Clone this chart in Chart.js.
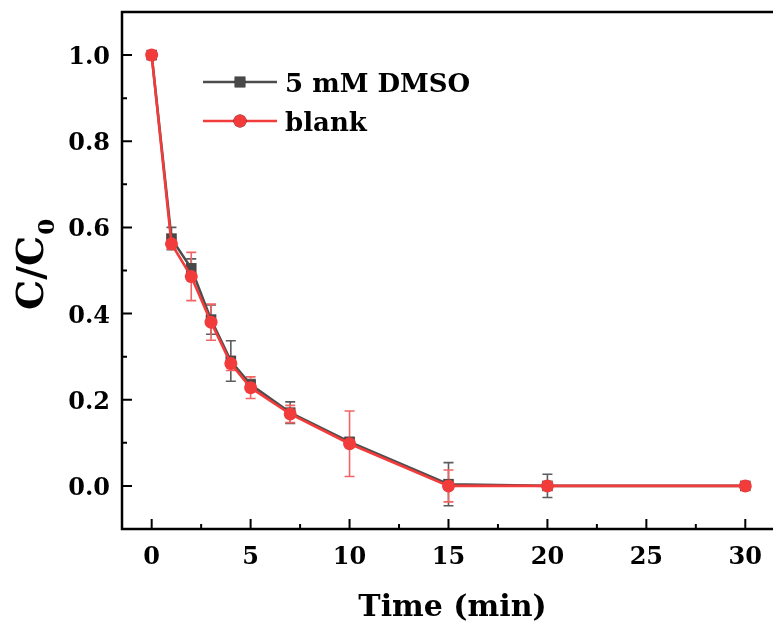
<!DOCTYPE html>
<html>
<head>
<meta charset="utf-8">
<script src="https://cdn.jsdelivr.net/npm/chart.js@4.4.0/dist/chart.umd.min.js"></script>
<style>
  body { margin: 0; background: #fff; }
  #wrap { position: relative; width: 773px; height: 630px; }
</style>
</head>
<body>
<div id="wrap"><canvas id="decayChart"></canvas></div>
<script>
//////////////////////* Data *////////////////////////////
let times = [0, 1, 2, 3, 4, 5, 7, 10, 15, 20, 30];

// C/C0 for each run
let dmsoValues  = [1.0, 0.574, 0.505, 0.386, 0.290, 0.235, 0.170, 0.102, 0.004, 0.000, 0.000];
let blankValues = [1.0, 0.562, 0.486, 0.380, 0.284, 0.228, 0.167, 0.098, 0.000, 0.000, 0.000];

// standard deviation at each time
let dmsoErrors  = [0, 0.026, 0.022, 0.034, 0.047, 0.012, 0.025, 0.010, 0.050, 0.027, 0];
let blankErrors = [0, 0.012, 0.056, 0.042, 0.016, 0.025, 0.020, 0.076, 0.037, 0.003, 0];

let seriesLabels = ["5 mM DMSO", "blank"];
let xTickValues = [0, 5, 10, 15, 20, 25, 30];
let yTickValues = [0.0, 0.2, 0.4, 0.6, 0.8, 1.0];

//////////////////////* Styles *////////////////////////////
const serif = '"DejaVu Serif", serif';
const darkColor = '#4d4d4d';
const redColor = '#f23c3c';

function toPoints(values) {
    return times.map((t, i) => ({ x: t, y: values[i] }));
}

//////////////////////* Plugins *////////////////////////////
const errorBars = {
    id: 'errorBars',
    beforeDatasetsDraw(chart) {
        const ctx = chart.ctx;
        const ys = chart.scales.y;
        chart.data.datasets.forEach((ds, i) => {
            const meta = chart.getDatasetMeta(i);
            ctx.save();
            ctx.strokeStyle = ds.errorColor;
            ctx.lineWidth = 1.6;
            meta.data.forEach((pt, j) => {
                const e = ds.errors[j];
                if (!e) return;
                const v = ds.data[j].y;
                const top = ys.getPixelForValue(v + e);
                const bot = ys.getPixelForValue(v - e);
                ctx.beginPath();
                ctx.moveTo(pt.x, top); ctx.lineTo(pt.x, bot);
                ctx.moveTo(pt.x - 5, top); ctx.lineTo(pt.x + 5, top);
                ctx.moveTo(pt.x - 5, bot); ctx.lineTo(pt.x + 5, bot);
                ctx.stroke();
            });
            ctx.restore();
        });
    }
};

const frameAndLabels = {
    id: 'frameAndLabels',
    afterDraw(chart) {
        const ctx = chart.ctx;
        const a = chart.chartArea;
        const xs = chart.scales.x;
        const ys = chart.scales.y;
        ctx.save();
        ctx.strokeStyle = '#000';
        ctx.fillStyle = '#000';

        // frame
        ctx.lineWidth = 2.5;
        ctx.beginPath();
        ctx.moveTo(a.right, a.top); ctx.lineTo(a.left, a.top);
        ctx.lineTo(a.left, a.bottom); ctx.lineTo(a.right, a.bottom);
        ctx.stroke();

        // inward ticks
        ctx.lineWidth = 2;
        ctx.beginPath();
        xTickValues.forEach((v, i) => {
            const px = xs.getPixelForValue(v);
            ctx.moveTo(px, a.bottom); ctx.lineTo(px, a.bottom - 10);
            if (i < xTickValues.length - 1) {
                const mx = xs.getPixelForValue(v + 2.5);
                ctx.moveTo(mx, a.bottom); ctx.lineTo(mx, a.bottom - 5);
            }
        });
        yTickValues.forEach((v, i) => {
            const py = ys.getPixelForValue(v);
            ctx.moveTo(a.left, py); ctx.lineTo(a.left + 10, py);
            if (i < yTickValues.length - 1) {
                const my = ys.getPixelForValue(v + 0.1);
                ctx.moveTo(a.left, my); ctx.lineTo(a.left + 5, my);
            }
        });
        ctx.stroke();

        // tick labels
        ctx.font = 'bold 24px ' + serif;
        ctx.textBaseline = 'alphabetic';
        ctx.textAlign = 'center';
        xTickValues.forEach(v => {
            ctx.fillText(String(v), xs.getPixelForValue(v), 564);
        });
        ctx.textAlign = 'right';
        yTickValues.forEach(v => {
            ctx.fillText(v.toFixed(1), 110, ys.getPixelForValue(v) + 9);
        });

        // x title
        ctx.font = 'bold 30px ' + serif;
        ctx.textAlign = 'center';
        ctx.fillText('Time (min)', (a.left + a.right) / 2 + 5, 616);

        // y title C/C0
        ctx.save();
        ctx.translate(43, 310);
        ctx.rotate(-Math.PI / 2);
        ctx.font = 'bold 38px ' + serif;
        ctx.textAlign = 'left';
        ctx.fillText('C/C', 0, 0);
        const w = ctx.measureText('C/C').width;
        ctx.font = 'bold 23px ' + serif;
        ctx.fillText('0', w + 1, 11);
        ctx.restore();

        // legend
        const rows = [
            { y: 82, base: 92, ds: chart.data.datasets[0] },
            { y: 121, base: 131, ds: chart.data.datasets[1] },
        ];
        ctx.textAlign = 'left';
        rows.forEach(r => {
            ctx.strokeStyle = r.ds.borderColor;
            ctx.lineWidth = 2.5;
            ctx.beginPath();
            ctx.moveTo(203, r.y); ctx.lineTo(277, r.y);
            ctx.stroke();
            Chart.helpers.drawPoint(ctx, {
                pointStyle: r.ds.pointStyle,
                radius: r.ds.pointRadius,
                borderWidth: 0,
                rotation: 0,
            }, 240, r.y);
            ctx.fillStyle = r.ds.pointBackgroundColor;
            ctx.fill();
            ctx.fillStyle = '#000';
            ctx.font = 'bold 26px ' + serif;
            ctx.fillText(r.ds.label, 285, r.base);
        });
        ctx.restore();
    }
};

//////////////////////* Chart *////////////////////////////
function decayChart() {
    let ctx = document.getElementById('decayChart');
    let data = {
        datasets: [
            {
                label: seriesLabels[0],
                data: toPoints(dmsoValues),
                errors: dmsoErrors,
                errorColor: '#5c5c5c',
                borderColor: darkColor,
                borderWidth: 2.6,
                pointStyle: 'rect',
                pointRadius: 7.5,
                pointBackgroundColor: '#484848',
                pointBorderWidth: 0,
                order: 2,
            },
            {
                label: seriesLabels[1],
                data: toPoints(blankValues),
                errors: blankErrors,
                errorColor: '#f26464',
                borderColor: redColor,
                borderWidth: 2.6,
                pointStyle: 'circle',
                pointRadius: 6.5,
                pointBackgroundColor: redColor,
                pointBorderWidth: 0,
                order: 1,
            },
        ],
    };
    let config = {
        type: 'line',
        data: data,
        options: {
            responsive: true,
            maintainAspectRatio: false,
            animation: false,
            layout: {
                autoPadding: false,
                padding: { top: 12, right: 0, left: 0, bottom: 0 },
            },
            plugins: {
                legend: { display: false },
                tooltip: { enabled: false },
            },
            scales: {
                x: {
                    type: 'linear',
                    min: -1.5,
                    max: 31.4,
                    grid: { display: false },
                    border: { display: false },
                    ticks: { display: false },
                    afterBuildTicks: s => { s.ticks = xTickValues.map(v => ({ value: v })); },
                    afterFit: s => { s.height = 101; },
                },
                y: {
                    min: -0.1,
                    max: 1.1,
                    grid: { display: false },
                    border: { display: false },
                    ticks: { display: false },
                    afterBuildTicks: s => { s.ticks = yTickValues.map(v => ({ value: v })); },
                    afterFit: s => { s.width = 122; },
                },
            },
        },
        plugins: [errorBars, frameAndLabels],
    };
    let chart = new Chart(ctx, config);
}

decayChart();
</script>
</body>
</html>
